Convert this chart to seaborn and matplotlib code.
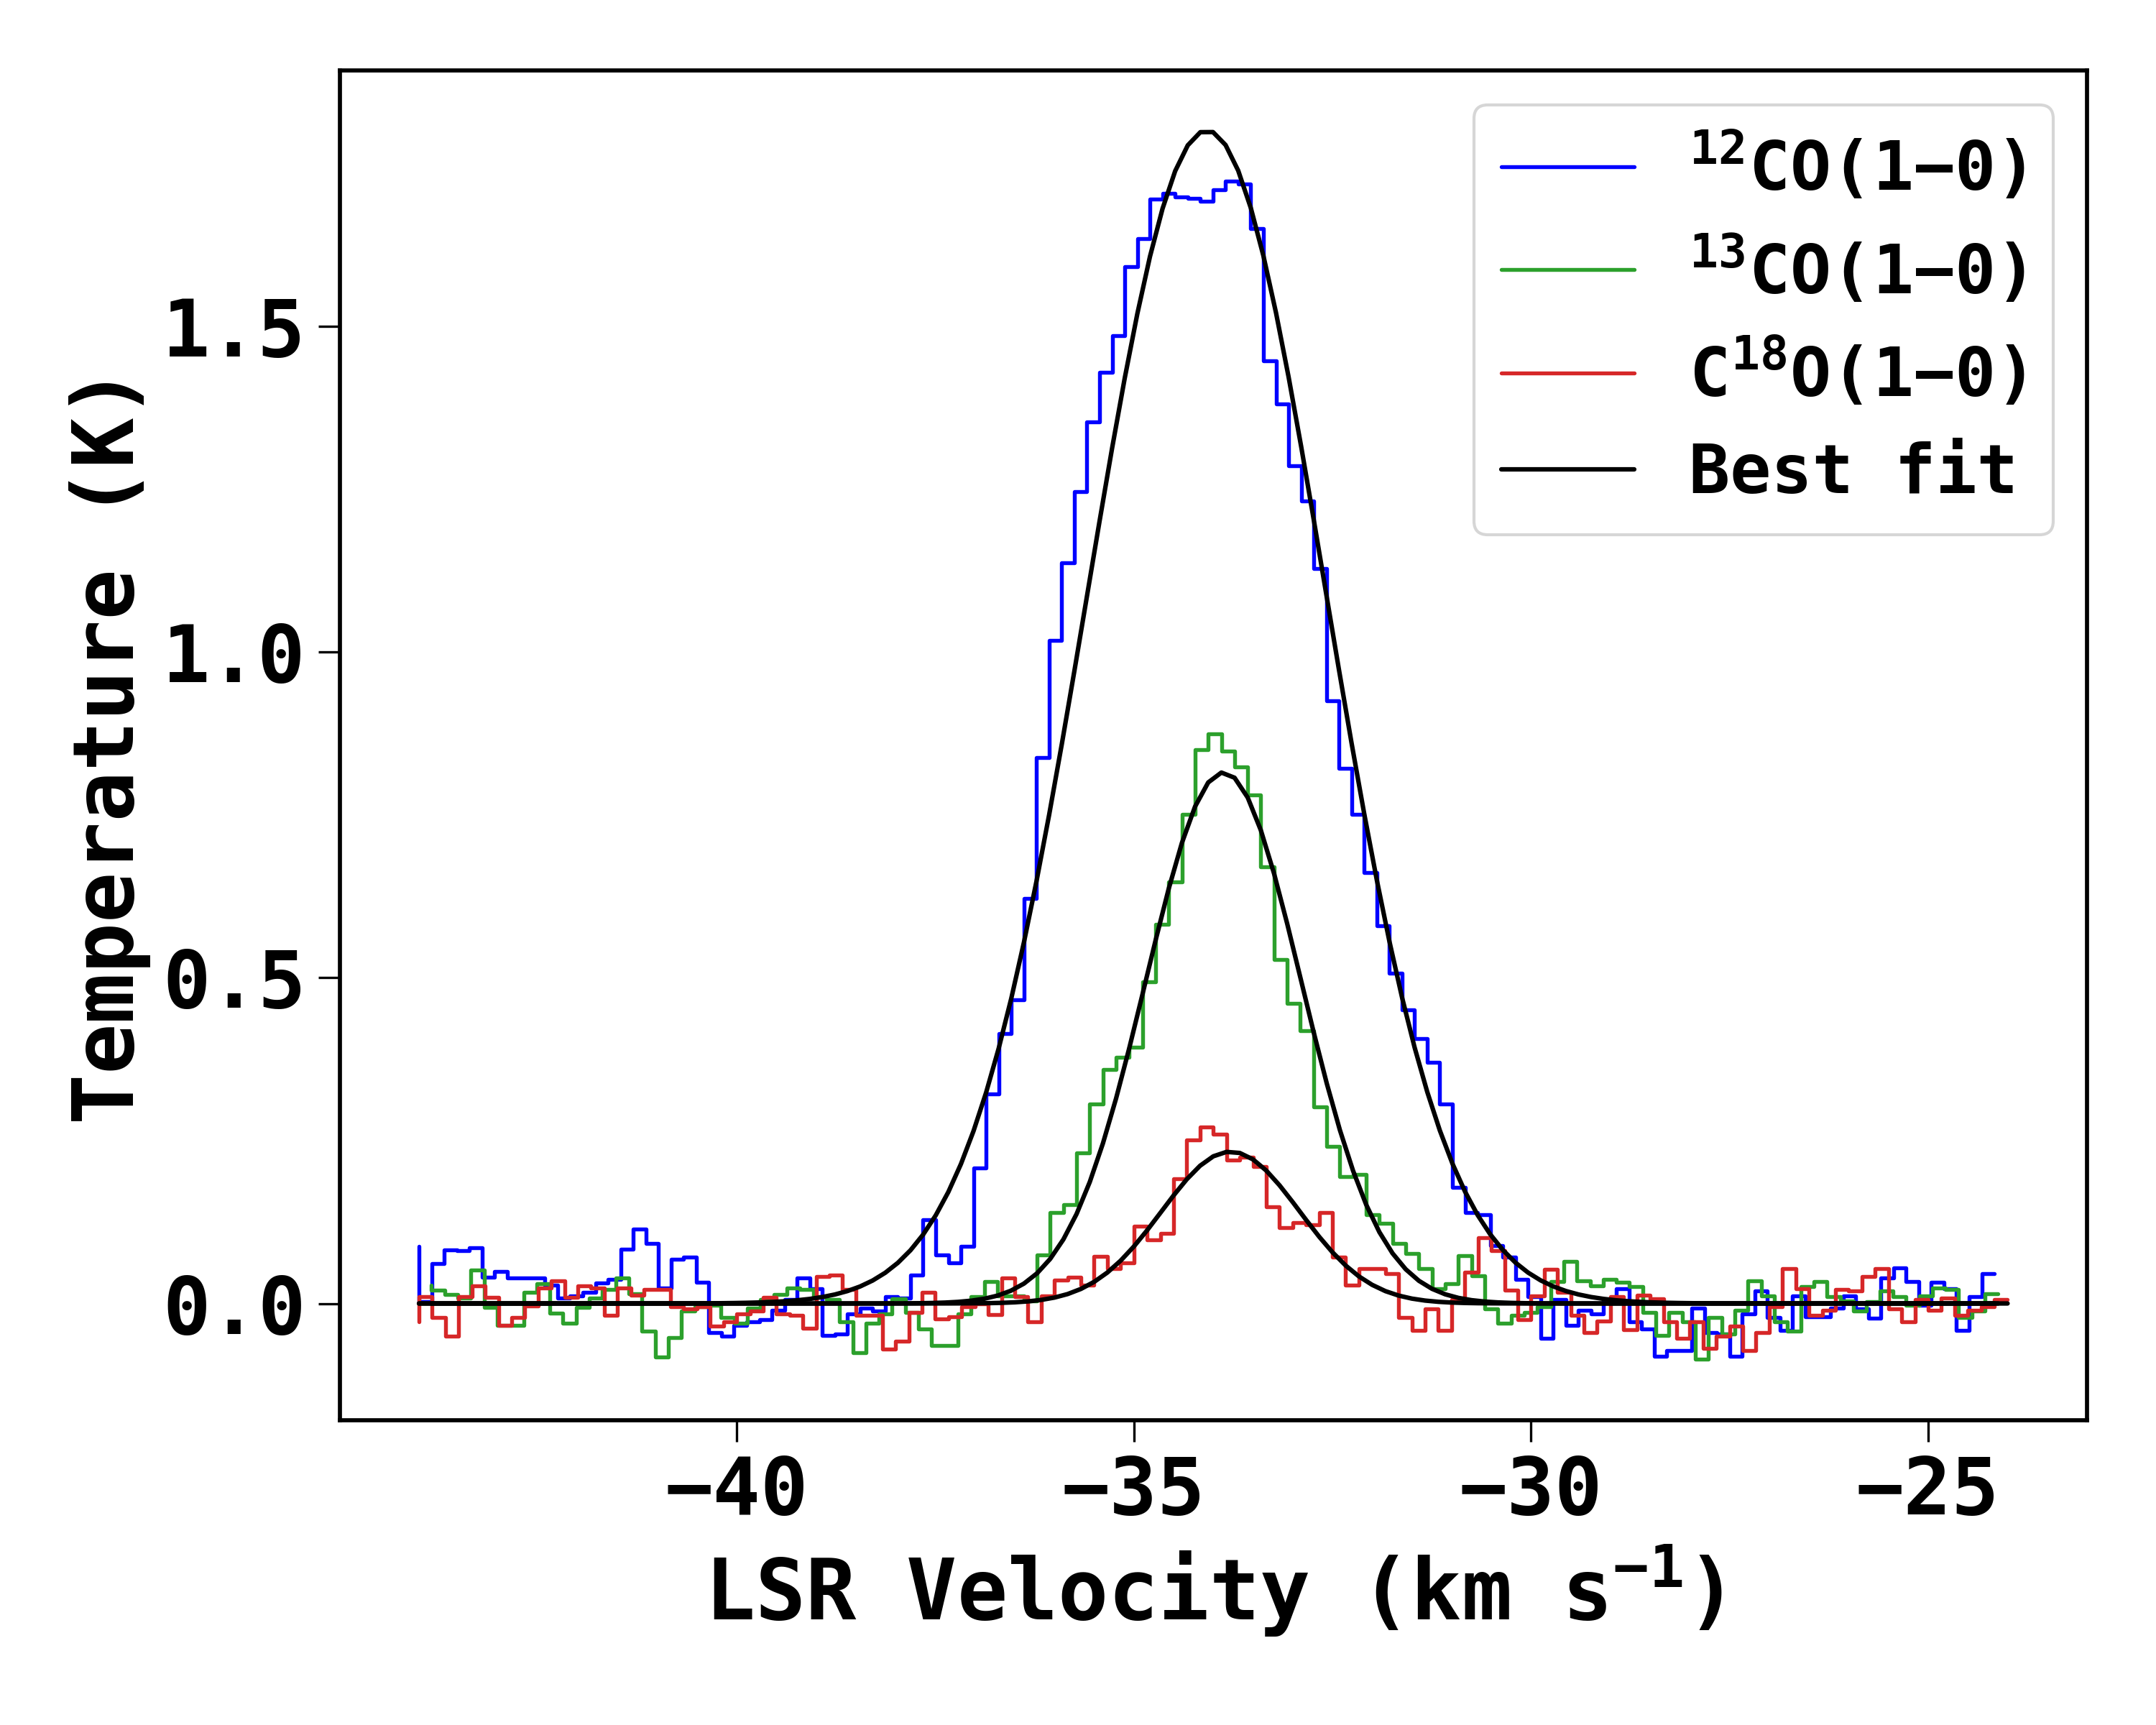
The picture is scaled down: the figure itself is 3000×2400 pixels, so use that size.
import numpy as np
import matplotlib
matplotlib.use("Agg")
import matplotlib.pyplot as plt
import seaborn as sns

# ---------------- data ----------------
# channel grids (km/s): first channel centre and channel width
v0_12co, dv_12co = -44.0, 0.1587
v0_13co, dv_13co = -43.844, 0.1658
v0_c18o, dv_c18o = -44.0, 0.1667

# brightness temperature per channel (K)
T_12co = [0.088, 0.003, 0.061, 0.082, 0.081, 0.086, 0.040, 0.049, 0.039, 0.039,
          0.039, 0.028, 0.008, 0.012, 0.017, 0.031, 0.037, 0.083, 0.114, 0.092,
          0.024, 0.068, 0.071, 0.033, -0.045, -0.050, -0.034, -0.028, -0.025, -0.010,
          0.006, 0.039, 0.023, -0.049, -0.047, -0.016, -0.007, -0.012, 0.010, 0.008,
          0.044, 0.129, 0.075, 0.062, 0.088, 0.208, 0.321, 0.414, 0.466, 0.622,
          0.838, 1.018, 1.137, 1.246, 1.353, 1.429, 1.485, 1.591, 1.634, 1.695,
          1.703, 1.698, 1.696, 1.691, 1.709, 1.722, 1.718, 1.650, 1.447, 1.380,
          1.286, 1.231, 1.128, 0.925, 0.821, 0.751, 0.661, 0.580, 0.507, 0.451,
          0.406, 0.370, 0.306, 0.178, 0.140, 0.136, 0.089, 0.071, 0.037, 0.010,
          -0.054, 0.006, -0.034, -0.010, -0.016, 0.004, 0.023, -0.028, -0.039, -0.081,
          -0.072, -0.072, -0.007, -0.045, -0.047, -0.081, -0.016, 0.019, -0.021, -0.041,
          0.012, -0.020, -0.020, -0.007, 0.012, -0.008, -0.023, 0.039, 0.055, 0.034,
          -0.003, 0.032, 0.023, -0.041, 0.010, 0.046]

T_13co = [0.028, 0.020, 0.014, 0.008, 0.051, -0.006, -0.034, -0.034, 0.017, 0.030,
          -0.015, -0.030, -0.006, 0.008, 0.021, 0.039, 0.015, -0.043, -0.082, -0.052,
          -0.012, -0.005, -0.003, -0.022, -0.030, -0.007, 0.006, 0.014, 0.024, 0.021,
          0.010, 0.006, -0.028, -0.076, -0.030, -0.016, 0.007, -0.014, -0.039, -0.064,
          -0.065, -0.016, 0.010, 0.034, 0.012, 0.012, 0.004, 0.075, 0.139, 0.152,
          0.231, 0.306, 0.359, 0.378, 0.393, 0.494, 0.582, 0.647, 0.751, 0.850,
          0.874, 0.848, 0.823, 0.780, 0.670, 0.528, 0.461, 0.419, 0.302, 0.241,
          0.195, 0.198, 0.136, 0.123, 0.092, 0.077, 0.053, 0.023, 0.030, 0.073,
          0.043, -0.008, -0.030, -0.018, -0.014, -0.005, 0.034, 0.065, 0.035, 0.027,
          0.037, 0.033, 0.026, -0.014, -0.049, -0.014, -0.028, -0.085, -0.021, -0.047,
          -0.010, 0.035, 0.012, -0.028, -0.043, 0.026, 0.034, 0.010, 0.004, -0.012,
          0.003, 0.019, 0.010, -0.003, 0.012, 0.024, 0.021, -0.021, -0.012, 0.015]

T_c18o = [-0.028, 0.011, -0.021, -0.050, 0.010, 0.027, 0.009, -0.034, -0.021, -0.004,
          0.024, 0.035, 0.009, 0.027, 0.024, -0.018, 0.024, 0.013, 0.021, 0.021,
          -0.005, -0.008, -0.005, -0.035, -0.028, -0.016, -0.012, 0.009, -0.016, -0.018,
          -0.038, 0.041, 0.044, 0.021, -0.018, -0.018, -0.070, -0.058, -0.014, 0.017,
          -0.024, -0.020, -0.005, 0.000, -0.017, 0.039, 0.010, -0.028, 0.012, 0.036,
          0.040, 0.028, 0.072, 0.054, 0.062, 0.119, 0.098, 0.108, 0.191, 0.251,
          0.271, 0.260, 0.220, 0.225, 0.210, 0.148, 0.116, 0.124, 0.121, 0.139,
          0.071, 0.028, 0.054, 0.053, 0.046, -0.021, -0.041, -0.008, -0.041, 0.006,
          0.048, 0.101, 0.081, 0.020, -0.025, 0.012, 0.052, 0.017, -0.018, -0.045,
          -0.027, 0.011, -0.040, 0.013, 0.007, -0.028, -0.053, -0.028, -0.069, -0.050,
          -0.035, -0.072, -0.045, -0.005, 0.054, 0.023, -0.018, -0.010, 0.021, 0.019,
          0.041, 0.053, -0.008, -0.028, 0.006, -0.010, 0.008, -0.018, -0.010, -0.005,
          0.006]

# Gaussian best-fit parameters (12CO, 13CO, C18O)
fit_amp = [1.80, 0.815, 0.233]
fit_cen = [-34.08, -33.87, -33.78]
fit_sig = [1.50, 0.98, 0.87]

series_labels = [r"$^{12}$CO(1$-$0)", r"$^{13}$CO(1$-$0)", r"C$^{18}$O(1$-$0)"]
fit_label = "Best fit"
series_colors = ["#0000ff", "#2ca02c", "#d62728"]

# ---------------- style ----------------
sns.set_theme(style="ticks")
plt.rcParams["font.family"] = ["DejaVu Sans Mono", "DejaVu Sans"]
plt.rcParams["font.weight"] = "bold"
plt.rcParams["axes.labelweight"] = "bold"
plt.rcParams["mathtext.fontset"] = "custom"
plt.rcParams["mathtext.rm"] = "DejaVu Sans Mono:bold"
plt.rcParams["mathtext.it"] = "DejaVu Sans Mono:bold"
plt.rcParams["mathtext.bf"] = "DejaVu Sans Mono:bold"
plt.rcParams["mathtext.default"] = "rm"
plt.rcParams["axes.edgecolor"] = "black"
plt.rcParams["xtick.color"] = "black"
plt.rcParams["ytick.color"] = "black"
plt.rcParams["text.color"] = "black"
plt.rcParams["axes.labelcolor"] = "black"

fig = plt.figure(figsize=(10, 8), dpi=300)
ax = fig.add_subplot(111)
fig.subplots_adjust(left=0.1575, right=0.968, top=0.959, bottom=0.1767)

grids = [(v0_12co, dv_12co, T_12co), (v0_13co, dv_13co, T_13co), (v0_c18o, dv_c18o, T_c18o)]
vels = []
for (v0, dv, T), col in zip(grids, series_colors):
    v = v0 + dv * np.arange(len(T))
    vels.append(v)
    sns.lineplot(x=v, y=np.asarray(T), color=col, lw=1.3, drawstyle="steps-pre",
                 estimator=None, sort=False, ax=ax, legend=False)

for v, a, c, s in zip(vels, fit_amp, fit_cen, fit_sig):
    model = a * np.exp(-0.5 * ((v - c) / s) ** 2)
    sns.lineplot(x=v, y=model, color="black", lw=1.5, estimator=None, sort=False,
                 ax=ax, legend=False)

for sp in ax.spines.values():
    sp.set_visible(True)
    sp.set_linewidth(1.37)
    sp.set_color("black")

ax.set_xticks([-40, -35, -30, -25])
ax.set_yticks([0.0, 0.5, 1.0, 1.5])
ax.tick_params(axis="both", which="major", direction="out", length=7.2, width=0.8,
               labelsize=26.5, pad=4, top=False, right=False)
for lab in ax.get_xticklabels() + ax.get_yticklabels():
    lab.set_fontweight("bold")

ax.set_xlabel(r"LSR Velocity (km s$^{-1}$)", fontsize=28, fontweight="bold")
ax.set_ylabel("Temperature (K)", fontsize=28, fontweight="bold")

lines = ax.get_lines()
handles = [lines[0], lines[1], lines[2], lines[3]]
labels = series_labels + [fit_label]
leg = ax.legend(handles, labels, loc="upper right", fontsize=22.8, frameon=True,
                framealpha=0.8, edgecolor="0.8", fancybox=True, labelspacing=0.44,
                handlelength=1.95)
for t in leg.get_texts():
    t.set_fontweight("bold")

fig.savefig("out.png", dpi=300)
